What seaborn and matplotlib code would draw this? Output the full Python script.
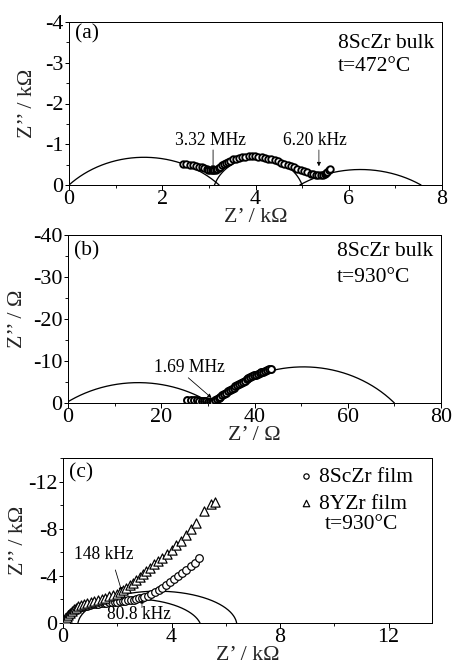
import numpy as np
import pandas as pd
import matplotlib
matplotlib.use("Agg")
import matplotlib.pyplot as plt
import seaborn as sns
from matplotlib.ticker import MultipleLocator

# ---------------- data ----------------
# (a) 8ScZr bulk, 472 C  (Z' in kOhm, Z'' in kOhm)
a_zre = [2.45, 2.52, 2.59, 2.66, 2.73, 2.79, 2.85, 2.9, 2.95, 2.99,
         3.03, 3.06, 3.09, 3.12, 3.15, 3.18, 3.21, 3.24, 3.28, 3.32,
         3.36, 3.41, 3.46, 3.52, 3.58, 3.64, 3.71, 3.78, 3.85, 3.92,
         3.99, 4.06, 4.13, 4.2, 4.27, 4.34, 4.41, 4.48, 4.55, 4.62,
         4.69, 4.76, 4.83, 4.9, 4.97, 5.04, 5.11, 5.18, 5.24, 5.3,
         5.35, 5.4, 5.44, 5.48, 5.51, 5.54, 5.57, 5.6]
a_zim = [-0.52, -0.51, -0.5, -0.48, -0.47, -0.45, -0.43, -0.41, -0.39, -0.38,
         -0.37, -0.36, -0.36, -0.37, -0.38, -0.4, -0.42, -0.45, -0.48, -0.51,
         -0.54, -0.57, -0.6, -0.63, -0.65, -0.67, -0.68, -0.69, -0.7, -0.7,
         -0.7, -0.69, -0.68, -0.67, -0.65, -0.63, -0.61, -0.58, -0.55, -0.52,
         -0.49, -0.46, -0.43, -0.4, -0.37, -0.34, -0.31, -0.28, -0.26, -0.25,
         -0.24, -0.24, -0.25, -0.27, -0.3, -0.33, -0.37, -0.4]
# fitted arcs: (start, end, height)
a_arc_start = [0.0, 3.12, 4.95]
a_arc_end = [3.22, 5.0, 7.55]
a_arc_height = [0.68, 0.68, 0.38]

# (b) 8ScZr bulk, 930 C  (Ohm)
b_zre = [25.6, 26.3, 27.0, 27.6, 28.2, 28.7, 29.2, 29.6, 30.0, 30.4,
         30.8, 31.1, 31.5, 31.9, 32.3, 32.7, 33.1, 33.5, 33.9, 34.3,
         34.7, 35.1, 35.5, 35.9, 36.3, 36.7, 37.1, 37.5, 37.9, 38.3,
         38.7, 39.1, 39.5, 39.9, 40.3, 40.7, 41.1, 41.5, 41.9, 42.3,
         42.7, 43.1, 43.5]
b_zim = [-0.75, -0.7, -0.65, -0.6, -0.55, -0.5, -0.45, -0.4, -0.3, -0.2,
         -0.15, -0.3, -0.6, -0.9, -1.2, -1.5, -1.8, -2.1, -2.4, -2.75,
         -3.05, -3.35, -3.65, -3.95, -4.25, -4.55, -4.8, -5.1, -5.35, -5.6,
         -5.85, -6.1, -6.35, -6.55, -6.75, -6.95, -7.15, -7.35, -7.5, -7.7,
         -7.85, -8.0, -8.15]
b_arc_start = [-0.45, 31.0]
b_arc_end = [30.6, 70.0]
b_arc_height = [4.85, 8.6]

# (c) films, 930 C  (kOhm)
c_sc_zre = [0.08, 0.12, 0.16, 0.2, 0.25, 0.3, 0.36, 0.43, 0.5, 0.6,
            0.7, 0.8, 0.9, 1.0, 1.1, 1.2, 1.3, 1.4, 1.5, 1.6,
            1.7, 1.8, 1.9, 2.0, 2.1, 2.2, 2.3, 2.4, 2.5, 2.6,
            2.7, 2.8, 2.9, 3.0, 3.12, 3.25, 3.38, 3.52, 3.66, 3.8,
            3.95, 4.1, 4.25, 4.4, 4.55, 4.7, 4.85, 5.0]
c_sc_zim = [-0.15, -0.3, -0.45, -0.6, -0.72, -0.85, -0.97, -1.08, -1.17, -1.27,
            -1.35, -1.42, -1.48, -1.53, -1.57, -1.61, -1.65, -1.68, -1.71, -1.73,
            -1.75, -1.77, -1.79, -1.8, -1.83, -1.86, -1.89, -1.92, -1.95, -1.99,
            -2.03, -2.08, -2.14, -2.22, -2.33, -2.47, -2.62, -2.8, -3.0, -3.22,
            -3.46, -3.72, -3.98, -4.25, -4.52, -4.8, -5.1, -5.5]
c_y_zre = [0.1, 0.15, 0.2, 0.26, 0.32, 0.4, 0.48, 0.57, 0.67, 0.78,
           0.9, 1.02, 1.15, 1.28, 1.42, 1.56, 1.7, 1.84, 1.98, 2.1,
           2.22, 2.34, 2.46, 2.58, 2.7, 2.82, 2.94, 3.06, 3.2, 3.35,
           3.5, 3.65, 3.82, 4.0, 4.18, 4.36, 4.54, 4.72, 4.9, 5.2,
           5.45, 5.6]
c_y_zim = [-0.3, -0.5, -0.7, -0.88, -1.03, -1.18, -1.3, -1.42, -1.53, -1.63,
           -1.73, -1.82, -1.9, -1.98, -2.06, -2.15, -2.25, -2.36, -2.5, -2.65,
           -2.82, -3.0, -3.2, -3.42, -3.65, -3.9, -4.15, -4.4, -4.68, -4.97,
           -5.25, -5.55, -5.85, -6.2, -6.6, -7.0, -7.45, -7.95, -8.5, -9.5,
           -10.1, -10.25]
c_arc_start = [0.0, 0.55]
c_arc_end = [5.05, 6.4]
c_arc_height = [2.05, 2.7]

series_labels = ["8ScZr film", "8YZr film"]


def arc_df(a, b, h, n=300):
    xc = (a + b) / 2.0
    c = (b - a) / 2.0
    r = (c * c + h * h) / (2.0 * h)
    yc = h - r
    x = np.linspace(a, b, n)
    y = yc + np.sqrt(np.maximum(r * r - (x - xc) ** 2, 0.0))
    return pd.DataFrame({"x": x, "y": -y})


# ---------------- style ----------------
sns.set_theme(style="ticks")
plt.rcParams.update({
    "font.family": ["Liberation Serif", "DejaVu Serif"],
    "axes.unicode_minus": False,
    "axes.linewidth": 1.0,
    "xtick.direction": "out",
    "ytick.direction": "out",
    "xtick.major.size": 4.5,
    "ytick.major.size": 4.5,
    "xtick.minor.size": 3,
    "ytick.minor.size": 3,
    "xtick.major.width": 1.0,
    "ytick.major.width": 1.0,
    "xtick.minor.width": 0.9,
    "ytick.minor.width": 0.9,
    "xtick.color": "black",
    "ytick.color": "black",
    "axes.edgecolor": "black",
    "text.color": "black",
})

TICK_FS = 22
LAB_FS = 22
TXT_FS = 21.5
FRQ_FS = 17.5

fig = plt.figure(figsize=(456 / 72, 669 / 72), dpi=72)
ax_a = fig.add_axes([69 / 456, 1 - 185 / 669, 373 / 456, 163 / 669])
ax_b = fig.add_axes([68 / 456, 1 - 403 / 669, 373 / 456, 168 / 669])
ax_c = fig.add_axes([63 / 456, 1 - 623 / 669, 369 / 456, 165 / 669])


def style_axes(ax, xlim, ylim, xmaj, xmin, ymaj, ymin, xlabel, ylabel, ylab_x, xlab_y):
    ax.set_xlim(*xlim)
    ax.set_ylim(*ylim)
    ax.xaxis.set_major_locator(MultipleLocator(xmaj))
    ax.xaxis.set_minor_locator(MultipleLocator(xmin))
    ax.yaxis.set_major_locator(MultipleLocator(ymaj))
    ax.yaxis.set_minor_locator(MultipleLocator(ymin))
    ax.tick_params(axis="both", which="both", top=False, right=False,
                   labelsize=TICK_FS)
    ax.tick_params(axis="x", which="major", pad=0)
    ax.tick_params(axis="y", which="major", pad=1)
    ax.set_xlabel(xlabel, fontsize=LAB_FS)
    ax.set_ylabel(ylabel, fontsize=LAB_FS)
    ax.yaxis.set_label_coords(ylab_x, 0.5)
    ax.xaxis.set_label_coords(0.5, xlab_y)
    for s in ax.spines.values():
        s.set_visible(True)
        s.set_linewidth(1.0)
        s.set_color("black")


# ---------------- panel (a) ----------------
for s0, s1, h in zip(a_arc_start, a_arc_end, a_arc_height):
    sns.lineplot(data=arc_df(s0, s1, h), x="x", y="y", sort=False,
                 estimator=None, color="black", lw=1.3, ax=ax_a)
sns.scatterplot(x=a_zre, y=a_zim, marker="o", s=42, color="white",
                edgecolor="black", linewidth=1.9, ax=ax_a, zorder=3)
style_axes(ax_a, (0, 8), (0, -4), 2, 1, 1, 0.5,
           "Z\u2019 / k\u03a9", "Z\u2019\u2019 / k\u03a9", -0.085, -0.14)
ax_a.text(0.015, 0.93, "(a)", transform=ax_a.transAxes, fontsize=TXT_FS,
          ha="left", va="center")
ax_a.text(0.72, 0.87, "8ScZr bulk", transform=ax_a.transAxes, fontsize=TXT_FS,
          ha="left", va="center")
ax_a.text(0.72, 0.73, "t=472\u00b0C", transform=ax_a.transAxes, fontsize=TXT_FS,
          ha="left", va="center")
ax_a.text(3.03, -1.08, "3.32 MHz", fontsize=FRQ_FS, ha="center", va="center")
ax_a.annotate("", xy=(3.09, -0.37), xytext=(3.09, -0.86),
              arrowprops=dict(arrowstyle="-|>", color="black", lw=0.8,
                              mutation_scale=8, shrinkA=0, shrinkB=0))
ax_a.text(5.27, -1.08, "6.20 kHz", fontsize=FRQ_FS, ha="center", va="center")
ax_a.annotate("", xy=(5.36, -0.46), xytext=(5.36, -0.86),
              arrowprops=dict(arrowstyle="-|>", color="black", lw=0.7,
                              mutation_scale=8, shrinkA=0, shrinkB=0))

# ---------------- panel (b) ----------------
for s0, s1, h in zip(b_arc_start, b_arc_end, b_arc_height):
    sns.lineplot(data=arc_df(s0, s1, h), x="x", y="y", sort=False,
                 estimator=None, color="black", lw=1.3, ax=ax_b)
sns.scatterplot(x=b_zre, y=b_zim, marker="o", s=48, color="white",
                edgecolor="black", linewidth=2.0, ax=ax_b, zorder=3)
style_axes(ax_b, (0, 80), (0, -40), 20, 10, 10, 5,
           "Z\u2019 / \u03a9", "Z\u2019\u2019 / \u03a9", -0.11, -0.135)
ax_b.text(0.015, 0.905, "(b)", transform=ax_b.transAxes, fontsize=TXT_FS,
          ha="left", va="center")
ax_b.text(0.72, 0.90, "8ScZr bulk", transform=ax_b.transAxes, fontsize=TXT_FS,
          ha="left", va="center")
ax_b.text(0.72, 0.745, "t=930\u00b0C", transform=ax_b.transAxes, fontsize=TXT_FS,
          ha="left", va="center")
ax_b.text(26.0, -8.4, "1.69 MHz", fontsize=FRQ_FS, ha="center", va="center")
ax_b.annotate("", xy=(30.8, -1.2), xytext=(25.8, -6.0),
              arrowprops=dict(arrowstyle="-|>", color="black", lw=0.8,
                              mutation_scale=8, shrinkA=0, shrinkB=0))

# ---------------- panel (c) ----------------
for s0, s1, h in zip(c_arc_start, c_arc_end, c_arc_height):
    sns.lineplot(data=arc_df(s0, s1, h), x="x", y="y", sort=False,
                 estimator=None, color="black", lw=1.3, ax=ax_c)
sns.scatterplot(x=c_sc_zre, y=c_sc_zim, marker="o", s=58, color="white",
                edgecolor="black", linewidth=1.2, ax=ax_c, zorder=3,
                label=series_labels[0])
sns.scatterplot(x=c_y_zre, y=c_y_zim, marker="^", s=85, color="white",
                edgecolor="black", linewidth=1.2, ax=ax_c, zorder=4,
                label=series_labels[1])
style_axes(ax_c, (0, 13.6), (0, -14), 4, 2, 4, 2,
           "Z\u2019 / k\u03a9", "Z\u2019\u2019 / k\u03a9", -0.095, -0.14)
handles, labels = ax_c.get_legend_handles_labels()
ax_c.legend(handles, labels, loc="upper left", bbox_to_anchor=(0.60, 1.04),
            frameon=False, fontsize=TXT_FS, handlelength=0.6,
            handletextpad=0.3, labelspacing=0.33, borderpad=0.2,
            markerscale=0.7)
ax_c.text(0.015, 0.91, "(c)", transform=ax_c.transAxes, fontsize=TXT_FS,
          ha="left", va="center")
ax_c.text(0.71, 0.594, "t=930\u00b0C", transform=ax_c.transAxes, fontsize=TXT_FS,
          ha="left", va="center")
ax_c.text(1.5, -5.8, "148 kHz", fontsize=FRQ_FS, ha="center", va="center")
ax_c.annotate("", xy=(2.17, -2.66), xytext=(1.93, -4.5),
              arrowprops=dict(arrowstyle="-|>", color="black", lw=0.8,
                              mutation_scale=8, shrinkA=0, shrinkB=0))
ax_c.text(2.8, -0.68, "80.8 kHz", fontsize=FRQ_FS, ha="center", va="center")
ax_c.annotate("", xy=(2.91, -1.95), xytext=(2.91, -1.3),
              arrowprops=dict(arrowstyle="-|>", color="black", lw=0.7,
                              mutation_scale=6, shrinkA=0, shrinkB=0))

fig.savefig("out.png", dpi=72, facecolor="white")
